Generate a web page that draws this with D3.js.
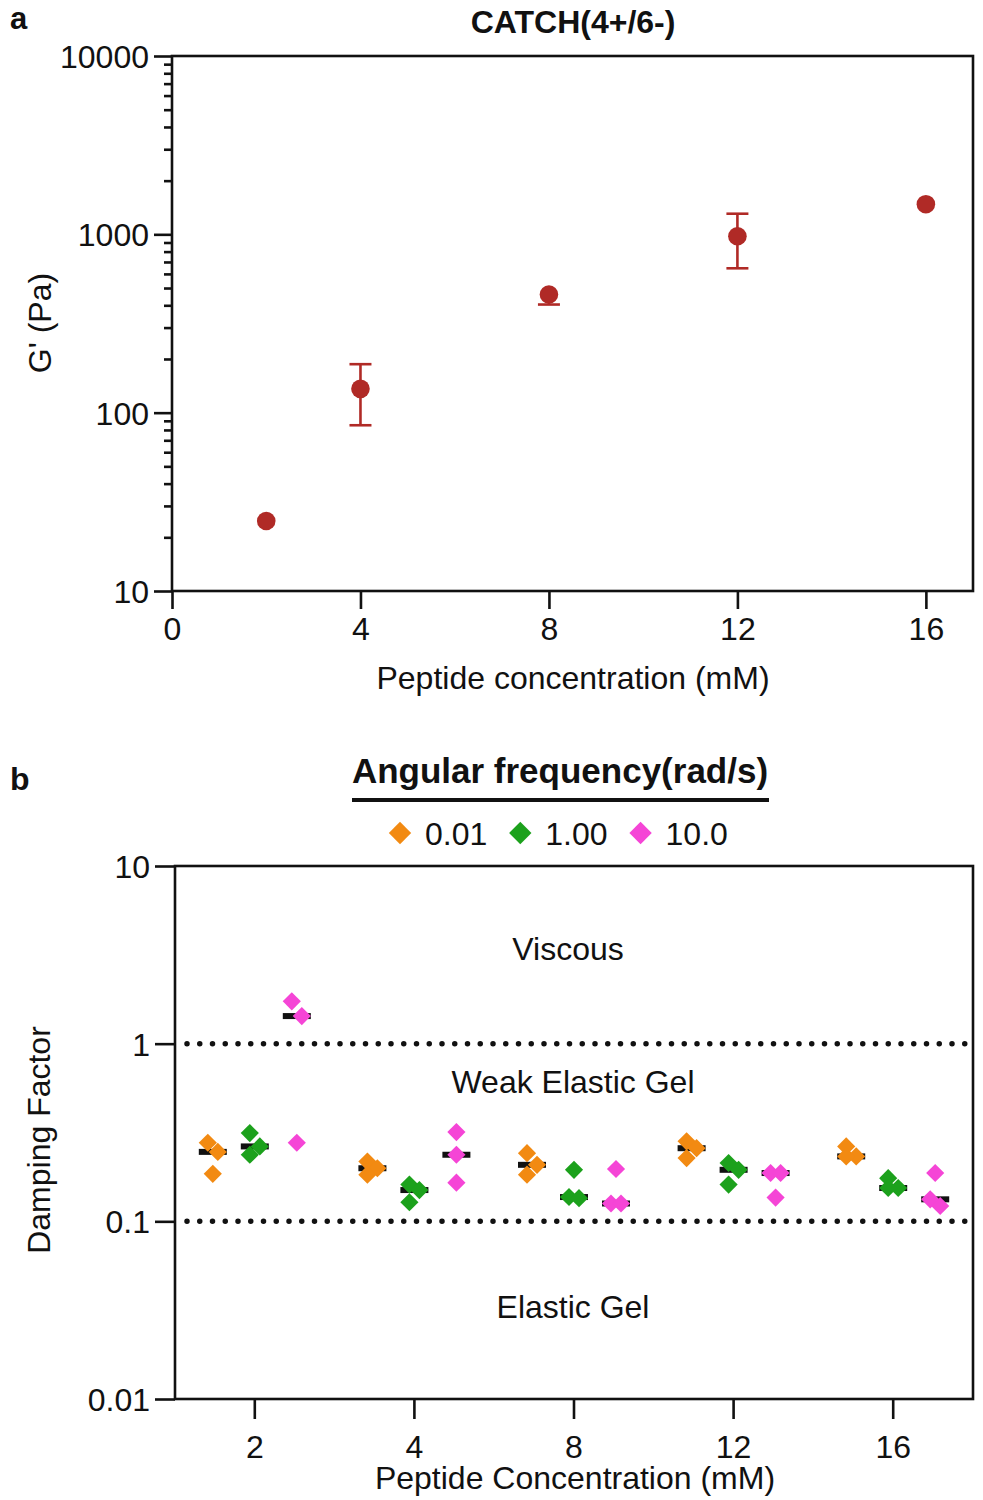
<!DOCTYPE html>
<html><head><meta charset="utf-8">
<script src="https://cdn.jsdelivr.net/npm/d3@7"></script>
<style>
body{margin:0;background:#fff}
svg{display:block}
text{font-family:"Liberation Sans",Arial,Helvetica,sans-serif;fill:#111}
</style>
</head><body>
<svg id="c" width="983" height="1500"></svg>
<script>
// ---------- Panel a data ----------
const concA = [2, 4, 8, 12, 16];
const gPrime = [24.7, 136, 460, 975, 1476];
const gPrimeSD = [0, 51, 56, 330, 0];
const xTicksA = [0, 4, 8, 12, 16];
const yTicksA = [10, 100, 1000, 10000];

// ---------- Panel b data ----------
const concB = ["2", "4", "8", "12", "16"];
const freqs = ["0.01", "1.00", "10.0"];
const damp001 = [[0.277,0.246,0.185],[0.217,0.199,0.183],[0.242,0.208,0.183],[0.282,0.258,0.227],[0.264,0.232,0.232]];
const damp100 = [[0.314,0.264,0.237],[0.161,0.150,0.128],[0.195,0.137,0.135],[0.213,0.195,0.161],[0.175,0.154,0.154]];
const damp10  = [[1.73,1.43,0.277],[0.318,0.237,0.165],[0.197,0.126,0.126],[0.187,0.187,0.136],[0.187,0.133,0.122]];
const yTicksB = [0.01, 0.1, 1, 10];
const thresholds = [1, 0.1];
const regionLabels = ["Viscous", "Weak Elastic Gel", "Elastic Gel"];
const regionValues = [3.4, 0.61, 0.033];
const seriesColors = ["#f28a12", "#1ca11c", "#f545d6"];
const redColor = "#b02a26";

const svg = d3.select("#c");
const FS = 32;
const SW = 2.6;

// ================= Panel a =================
const A = {l:172, r:973, t:56, b:591};
const xA = d3.scaleLinear().domain([0, 17]).range([A.l, A.r]);
const yA = d3.scaleLog().domain([10, 10000]).range([A.b, A.t]);

svg.append("text").attr("x", 10).attr("y", 29).attr("font-size", 31).attr("font-weight", "bold").text("a");
svg.append("text").attr("x", 573).attr("y", 33).attr("text-anchor", "middle").attr("font-size", FS).attr("font-weight", "bold").text("CATCH(4+/6-)");

// minor ticks
const minorA = [];
[10, 100, 1000].forEach(d => { for (let k = 2; k <= 9; k++) minorA.push(d * k); });
const gMinA = svg.append("g").attr("transform", `translate(${A.l},0)`)
  .call(d3.axisLeft(yA).tickValues(minorA).tickSize(8).tickFormat(""));
gMinA.select(".domain").remove();
gMinA.selectAll("line").attr("stroke", "#111").attr("stroke-width", SW);

const gYA = svg.append("g").attr("transform", `translate(${A.l},0)`)
  .call(d3.axisLeft(yA).tickValues(yTicksA).tickSize(18).tickPadding(5).tickFormat(d3.format("d")));
gYA.select(".domain").remove();
gYA.selectAll("line").attr("stroke", "#111").attr("stroke-width", SW);
gYA.selectAll("text").attr("font-size", FS).attr("font-family", null).attr("fill", "#111").attr("dy", "0.36em");

const gXA = svg.append("g").attr("transform", `translate(0,${A.b})`)
  .call(d3.axisBottom(xA).tickValues(xTicksA).tickSize(18).tickPadding(8));
gXA.select(".domain").remove();
gXA.selectAll("line").attr("stroke", "#111").attr("stroke-width", SW);
gXA.selectAll("text").attr("font-size", FS).attr("font-family", null).attr("fill", "#111");

svg.append("rect").attr("x", A.l).attr("y", A.t).attr("width", A.r - A.l).attr("height", A.b - A.t)
  .attr("fill", "none").attr("stroke", "#111").attr("stroke-width", SW);

svg.append("text").attr("x", 573).attr("y", 689).attr("text-anchor", "middle").attr("font-size", FS)
  .text("Peptide concentration (mM)");
svg.append("text").attr("transform", "translate(51,323) rotate(-90)").attr("text-anchor", "middle").attr("font-size", FS)
  .text("G' (Pa)");

// error bars + points
const R = 9.3;
const ptsA = concA.map((c, i) => ({c, v: gPrime[i], sd: gPrimeSD[i]}));
const gErr = svg.append("g").attr("stroke", redColor).attr("stroke-width", 2.6).attr("fill", "none");
ptsA.forEach(p => {
  if (!p.sd) return;
  const cx = xA(p.c), cy = yA(p.v);
  [p.v + p.sd, p.v - p.sd].forEach(e => {
    const ey = yA(e);
    if (Math.abs(ey - cy) <= R) return;
    gErr.append("line").attr("x1", cx).attr("x2", cx).attr("y1", cy).attr("y2", ey);
    gErr.append("line").attr("x1", cx - 11).attr("x2", cx + 11).attr("y1", ey).attr("y2", ey);
  });
});
svg.append("g").selectAll("circle").data(ptsA).join("circle")
  .attr("cx", d => xA(d.c)).attr("cy", d => yA(d.v)).attr("r", R).attr("fill", redColor);

// ================= Panel b =================
const B = {l:175, r:973, t:866, b:1399};
const xB = d3.scaleBand().domain(concB).range([B.l, B.r]).padding(0);
const xSub = d3.scalePoint().domain(freqs).range([-42, 42]);
const yB = d3.scaleLog().domain([0.01, 10]).range([B.b, B.t]);

svg.append("text").attr("x", 10).attr("y", 790).attr("font-size", 32).attr("font-weight", "bold").text("b");

// legend
const legCx = 560;
svg.append("text").attr("x", legCx).attr("y", 783).attr("text-anchor", "middle").attr("font-size", 35)
  .attr("font-weight", "bold").text("Angular frequency(rad/s)");
svg.append("line").attr("x1", 352).attr("x2", 769).attr("y1", 800).attr("y2", 800)
  .attr("stroke", "#111").attr("stroke-width", 4);
const diamondLeg = d3.symbol(d3.symbolSquare, 250)();
const diamondPt = d3.symbol(d3.symbolSquare, 165)();
let cursor = 389;
freqs.forEach((f, i) => {
  const cx = cursor + 11;
  svg.append("path").attr("d", diamondLeg).attr("fill", seriesColors[i])
    .attr("transform", `translate(${cx},833) rotate(45)`);
  const t = svg.append("text").attr("x", cx + 25).attr("y", 845).attr("font-size", FS).text(f);
  cursor = cx + 25 + t.node().getComputedTextLength() + 22;
});

// axes
const gYB = svg.append("g").attr("transform", `translate(${B.l},0)`)
  .call(d3.axisLeft(yB).tickValues(yTicksB).tickSize(20).tickPadding(5).tickFormat(d => String(d)));
gYB.select(".domain").remove();
gYB.selectAll("line").attr("stroke", "#111").attr("stroke-width", SW);
gYB.selectAll("text").attr("font-size", FS).attr("font-family", null).attr("fill", "#111").attr("dy", "0.36em");

const gXB = svg.append("g").attr("transform", `translate(0,${B.b})`)
  .call(d3.axisBottom(xB).tickSize(20).tickPadding(16));
gXB.select(".domain").remove();
gXB.selectAll("line").attr("stroke", "#111").attr("stroke-width", SW);
gXB.selectAll("text").attr("font-size", FS).attr("font-family", null).attr("fill", "#111");

svg.append("rect").attr("x", B.l).attr("y", B.t).attr("width", B.r - B.l).attr("height", B.b - B.t)
  .attr("fill", "none").attr("stroke", "#111").attr("stroke-width", SW);

// threshold dotted lines
svg.append("g").selectAll("line").data(thresholds).join("line")
  .attr("x1", B.l + 12).attr("x2", B.r).attr("y1", d => yB(d)).attr("y2", d => yB(d))
  .attr("stroke", "#111").attr("stroke-width", 5.5).attr("stroke-linecap", "round")
  .attr("stroke-dasharray", "0,12.75");

// region labels
svg.append("g").selectAll("text").data(regionLabels).join("text")
  .attr("x", (d, i) => i === 0 ? 568 : 573).attr("y", (d, i) => yB(regionValues[i]) + 11)
  .attr("text-anchor", "middle").attr("font-size", FS).text(d => d);

svg.append("text").attr("x", 575).attr("y", 1489).attr("text-anchor", "middle").attr("font-size", FS)
  .text("Peptide Concentration (mM)");
svg.append("text").attr("transform", "translate(50,1140) rotate(-90)").attr("text-anchor", "middle").attr("font-size", FS)
  .text("Damping Factor");

// points
const allSeries = [damp001, damp100, damp10];
function jitter(vals) {
  const idx = vals.map((v, i) => i).sort((a, b) => yB(vals[a]) - yB(vals[b]));
  const off = new Array(vals.length).fill(0);
  let cluster = [idx[0]];
  const flush = () => {
    if (cluster.length > 1) cluster.forEach((k, j) => { off[k] = (j % 2 === 0 ? -5 : 5); });
  };
  for (let j = 1; j < idx.length; j++) {
    if (Math.abs(yB(vals[idx[j]]) - yB(vals[idx[j - 1]])) < 16) cluster.push(idx[j]);
    else { flush(); cluster = [idx[j]]; }
  }
  flush();
  return off;
}
const gPts = svg.append("g");
allSeries.forEach((series, si) => {
  series.forEach((vals, ci) => {
    const cx = xB(concB[ci]) + xB.bandwidth() / 2 + xSub(freqs[si]);
    const med = d3.median(vals);
    gPts.append("rect").attr("x", cx - 14).attr("y", yB(med) - 3).attr("width", 28).attr("height", 6).attr("fill", "#111");
    const off = jitter(vals);
    vals.forEach((v, k) => {
      gPts.append("path").attr("d", diamondPt).attr("fill", seriesColors[si])
        .attr("transform", `translate(${cx + off[k]},${yB(v)}) rotate(45)`);
    });
  });
});
</script>
</body></html>
